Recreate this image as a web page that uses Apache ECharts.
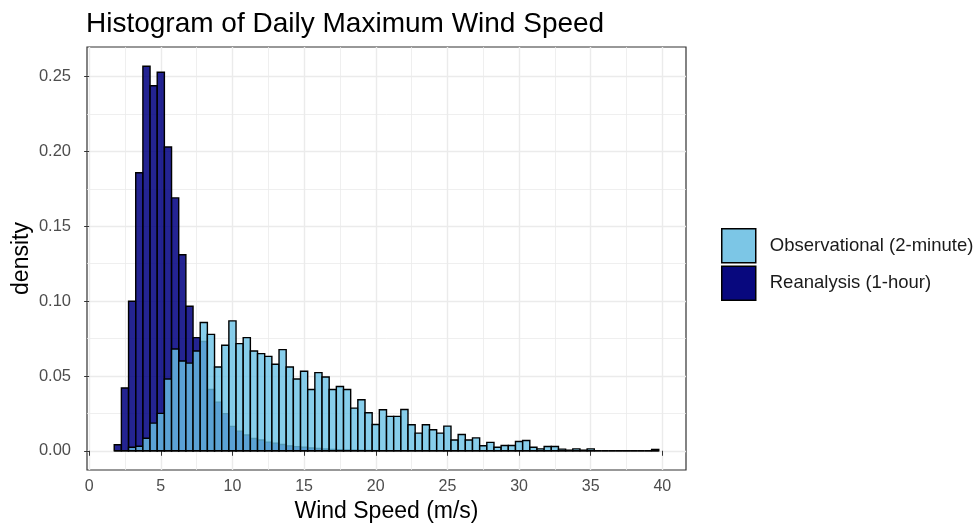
<!DOCTYPE html>
<html>
<head>
<meta charset="utf-8">
<script src="https://cdn.jsdelivr.net/npm/echarts@6/dist/echarts.min.js"></script>
<style>
  html, body { margin: 0; padding: 0; background: #ffffff; }
  #chart { width: 980px; height: 527px; }
</style>
</head>
<body>
<div id="chart"></div>
<script>
// Histogram bins: centres (m/s), width 0.5 m/s
const binWidth = 0.5;
const binCenters = [
  2.0, 2.5, 3.0, 3.5, 4.0, 4.5, 5.0, 5.5, 6.0, 6.5,
  7.0, 7.5, 8.0, 8.5, 9.0, 9.5, 10.0, 10.5, 11.0, 11.5,
  12.0, 12.5, 13.0, 13.5, 14.0, 14.5, 15.0, 15.5, 16.0, 16.5,
  17.0, 17.5, 18.0, 18.5, 19.0, 19.5, 20.0, 20.5, 21.0, 21.5,
  22.0, 22.5, 23.0, 23.5, 24.0, 24.5, 25.0, 25.5, 26.0, 26.5,
  27.0, 27.5, 28.0, 28.5, 29.0, 29.5, 30.0, 30.5, 31.0, 31.5,
  32.0, 32.5, 33.0, 33.5, 34.0, 34.5, 35.0, 35.5, 36.0, 36.5,
  37.0, 37.5, 38.0, 38.5, 39.0, 39.5
];

// Density per bin, observational 2-minute maximum wind
const obsDensity = [
  0, 0, 0.0024, 0.0030, 0.0084, 0.0185, 0.0250, 0.0480, 0.0680, 0.0600,
  0.0586, 0.0667, 0.0857, 0.0778, 0.0560, 0.0705, 0.0868, 0.0716, 0.0756, 0.0667,
  0.0649, 0.0631, 0.0578, 0.0676, 0.0560, 0.0480, 0.0531, 0.0410, 0.0522, 0.0493,
  0.0410, 0.0430, 0.0410, 0.0285, 0.0341, 0.0254, 0.0176, 0.0274, 0.0230, 0.0230,
  0.0276, 0.0174, 0.0118, 0.0174, 0.0140, 0.0118, 0.0165, 0.0072, 0.0109, 0.0072,
  0.0086, 0.0034, 0.0056, 0.0024, 0.0035, 0.0035, 0.0062, 0.0069, 0.0024, 0.0013,
  0.0029, 0.0029, 0.0011, 0.0004, 0.0013, 0.0004, 0.0013, 0, 0, 0,
  0, 0, 0, 0, 0, 0.0009
];

// Density per bin, reanalysis 1-hour maximum wind
const reaDensity = [
  0.0040, 0.0420, 0.0999, 0.1858, 0.2570, 0.2440, 0.2530, 0.2030, 0.1690, 0.1310,
  0.0966, 0.0756, 0.0730, 0.0410, 0.0325, 0.0248, 0.0163, 0.0131, 0.0105, 0.0082,
  0.0072, 0.0058, 0.0051, 0.0042, 0.0033, 0.0028, 0.0024, 0.0019, 0.0015, 0.0012,
  0.0009, 0.0007, 0.0005, 0.0004, 0.0003, 0.0002, 0.0001, 0, 0, 0,
  0, 0, 0, 0, 0, 0, 0, 0, 0, 0,
  0, 0, 0, 0, 0, 0, 0, 0, 0, 0,
  0, 0, 0, 0, 0, 0, 0, 0, 0, 0,
  0, 0, 0, 0, 0, 0
];

const seriesNames = ['Observational (2-minute)', 'Reanalysis (1-hour)'];
const xTickValues = [0, 5, 10, 15, 20, 25, 30, 35, 40];
const xMinorValues = [2.5, 7.5, 12.5, 17.5, 22.5, 27.5, 32.5, 37.5];
const yTickValues = [0, 0.05, 0.10, 0.15, 0.20, 0.25];
const yMinorValues = [0.025, 0.075, 0.125, 0.175, 0.225];

// Axis limits: data range padded by 5% on each side
const xLo = binCenters[0] - binWidth / 2;
const xHi = binCenters[binCenters.length - 1] + binWidth / 2;
const xPad = (xHi - xLo) * 0.05;
const yHi = Math.max(...obsDensity, ...reaDensity);
const yPad = yHi * 0.05;

const FONT = 'Liberation Sans, Arial, Helvetica, sans-serif';
const OBS_FILL = 'rgba(105,194,230,0.8)';
const REA_FILL = 'rgba(0,0,128,0.86)';

function barRenderer(fill) {
  return function (params, api) {
    const c = api.value(0);
    const h = api.value(1);
    const p0 = api.coord([c - binWidth / 2, 0]);
    const p1 = api.coord([c + binWidth / 2, h]);
    if (h === 0) {
      return {
        type: 'line',
        shape: { x1: p0[0], y1: p0[1], x2: p1[0], y2: p0[1] },
        style: { stroke: '#000000', lineWidth: 1.4 }
      };
    }
    return {
      type: 'rect',
      shape: { x: p0[0], y: p1[1], width: p1[0] - p0[0], height: p0[1] - p1[1] },
      style: { fill: fill, stroke: '#000000', lineWidth: 1.4 }
    };
  };
}

const chart = echarts.init(document.getElementById('chart'), null, { renderer: 'canvas' });

const baseX = {
  type: 'value',
  min: xLo - xPad,
  max: xHi + xPad,
  axisLine: { show: false },
  axisTick: { show: false },
  axisLabel: { show: false },
  splitLine: { show: false }
};
const baseY = {
  type: 'value',
  min: -yPad,
  max: yHi + yPad,
  axisLine: { show: false },
  axisTick: { show: false },
  axisLabel: { show: false },
  splitLine: { show: false }
};

chart.setOption({
  animation: false,
  backgroundColor: '#ffffff',
  title: {
    text: 'Histogram of Daily Maximum Wind Speed',
    left: 81,
    top: 5,
    textStyle: { fontFamily: FONT, fontSize: 28, fontWeight: 'normal', color: '#000000' }
  },
  legend: {
    orient: 'vertical',
    left: 721,
    top: 228,
    itemWidth: 34,
    itemHeight: 34,
    itemGap: 2,
    padding: 0,
    icon: 'rect',
    data: [
      { name: seriesNames[0], itemStyle: { color: '#7cc6e6', borderColor: '#000000', borderWidth: 1.5 } },
      { name: seriesNames[1], itemStyle: { color: '#08087e', borderColor: '#000000', borderWidth: 1.5 } }
    ],
    textStyle: { fontFamily: FONT, fontSize: 18.5, color: '#1a1a1a', padding: [0, 0, 0, 9] }
  },
  grid: {
    left: 87, top: 47, width: 599, height: 423,
    outerBoundsMode: 'none',
    containLabel: false,
    show: true, borderColor: '#333333', borderWidth: 1.2, backgroundColor: 'transparent'
  },
  xAxis: [
    Object.assign({}, baseX, {
      name: 'Wind Speed (m/s)',
      nameLocation: 'middle',
      nameGap: 30,
      nameMoveOverlap: false,
      nameTextStyle: { fontFamily: FONT, fontSize: 23, color: '#000000' },
      axisTick: { show: true, length: 5, customValues: xTickValues, lineStyle: { color: '#333333', width: 1 } },
      axisLabel: { show: true, customValues: xTickValues, margin: 9, fontFamily: FONT, fontSize: 16, color: '#4d4d4d' },
      splitLine: { show: true, lineStyle: { color: '#ebebeb', width: 1.4 } }
    }),
    Object.assign({}, baseX, {
      axisTick: { show: false, customValues: xMinorValues },
      splitLine: { show: true, lineStyle: { color: '#ebebeb', width: 0.8 } }
    })
  ],
  yAxis: [
    Object.assign({}, baseY, {
      name: 'density',
      nameLocation: 'middle',
      nameGap: 54,
      nameRotate: 90,
      nameMoveOverlap: false,
      nameTextStyle: { fontFamily: FONT, fontSize: 23, color: '#000000' },
      axisTick: { show: true, length: 5, customValues: yTickValues, lineStyle: { color: '#333333', width: 1 } },
      axisLabel: { show: true, customValues: yTickValues, margin: 16, fontFamily: FONT, fontSize: 16.5, color: '#4d4d4d',
                   formatter: function (v) { return v.toFixed(2); } },
      splitLine: { show: true, lineStyle: { color: '#ebebeb', width: 1.4 } }
    }),
    Object.assign({}, baseY, {
      axisTick: { show: false, customValues: yMinorValues },
      splitLine: { show: true, lineStyle: { color: '#ebebeb', width: 0.8 } }
    })
  ],
  series: [
    {
      name: seriesNames[1],
      type: 'custom',
      xAxisIndex: 0,
      yAxisIndex: 0,
      itemStyle: { color: '#08087e' },
      renderItem: barRenderer(REA_FILL),
      data: binCenters.map((c, i) => [c, reaDensity[i]])
    },
    {
      name: seriesNames[0],
      type: 'custom',
      xAxisIndex: 0,
      yAxisIndex: 0,
      itemStyle: { color: '#7cc6e6' },
      renderItem: barRenderer(OBS_FILL),
      data: binCenters.map((c, i) => [c, obsDensity[i]])
    }
  ]
});
</script>
</body>
</html>
